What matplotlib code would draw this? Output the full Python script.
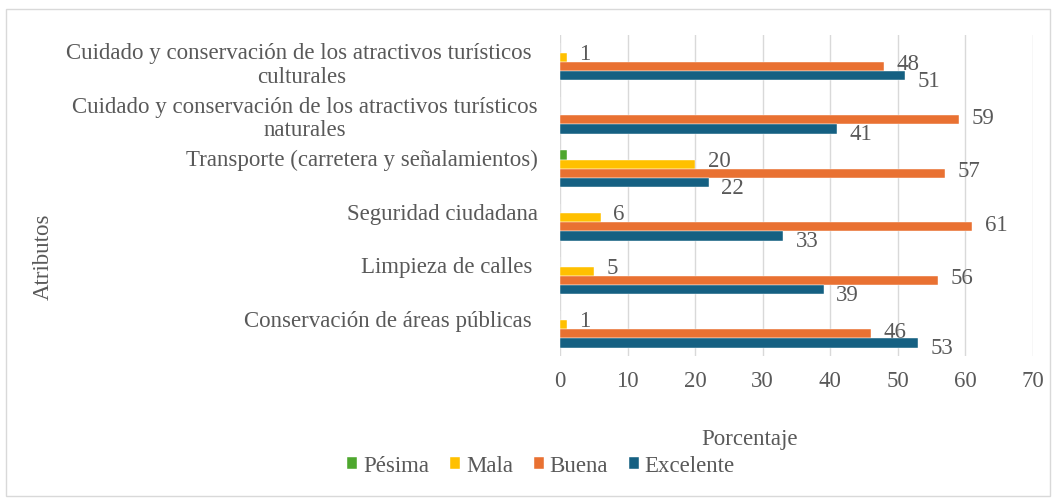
import matplotlib.pyplot as plt
import matplotlib.patches as mpatches
from matplotlib.transforms import offset_copy
import numpy as np

# Datos (porcentajes por atributo, de arriba hacia abajo)
categories = [
    "Cuidado y conservación de los atractivos turísticos \nculturales",
    "Cuidado y conservación de los atractivos turísticos\nnaturales",
    "Transporte (carretera y señalamientos)\n",
    "Seguridad ciudadana\n",
    "Limpieza de calles \n",
    "Conservación de áreas públicas \n",
]
series_names = ["Pésima", "Mala", "Buena", "Excelente"]
pesima = [0, 0, 1, 0, 0, 0]
mala = [1, 0, 20, 6, 5, 1]
buena = [48, 59, 57, 61, 56, 46]
excelente = [51, 41, 22, 33, 39, 53]
x_ticks = [0, 10, 20, 30, 40, 50, 60, 70]

# Estilo
colors = ["#4EA72E", "#FFC000", "#E97132", "#156082"]
label_dy = [0, -2, -1, 4]          # ajuste vertical de etiquetas (pt)
text_color = "#595959"
grid_color = "#D9D9D9"
plt.rcParams['font.family'] = ['Liberation Serif', 'DejaVu Serif']
fs = 16.5

fig = plt.figure(figsize=(10.54, 4.99), dpi=100)
ax = fig.add_axes([560 / 1054, 1 - 356 / 499, 473 / 1054, 321 / 499])

values = [pesima, mala, buena, excelente]
y = np.arange(len(categories))
h = 0.172

for j, (name, vals, col) in enumerate(zip(series_names, values, colors)):
    pos = y + (j - 1.5) * h
    bars = ax.barh(pos, vals, height=h, color=col, label=name,
                   edgecolor="white", linewidth=0.3, zorder=3)
    if name == "Pésima":
        continue                                                       # sin etiquetas en el original
    for b, v in zip(bars, vals):
        if v == 0:
            continue
        tr = offset_copy(ax.transData, fig=fig, x=9, y=-label_dy[j], units='points')
        ax.text(b.get_width(), b.get_y() + b.get_height() / 2, f"{v}",
                transform=tr, ha='left', va='center', fontsize=fs, color=text_color)

ax.set_xlim(0, 70)
ax.set_ylim(len(categories) - 0.5, -0.5)
ax.set_xticks(x_ticks)
ax.set_xticklabels([str(t) for t in x_ticks])
ax.set_yticks(y)
ax.set_yticklabels(categories, multialignment='center', linespacing=1.17)
ax.tick_params(axis='both', length=0, labelsize=fs, labelcolor=text_color)
ax.tick_params(axis='x', pad=11)
ax.tick_params(axis='y', pad=16)
ax.grid(axis='x', color=grid_color, linewidth=1, zorder=0)
for s in ax.spines.values():
    s.set_visible(False)

# Títulos de ejes
fig.text(750 / 1054, 1 - 440 / 499, "Porcentaje", ha='center', va='center',
         fontsize=fs, color=text_color)
fig.text(43 / 1054, 1 - 257 / 499, "Atributos", ha='center', va='center',
         rotation=90, fontsize=fs, color=text_color)

# Leyenda
fig.legend(loc='center', bbox_to_anchor=(541 / 1054, 1 - 466 / 499), ncol=4,
           frameon=False, fontsize=fs, labelcolor=text_color,
           handlelength=0.45, handleheight=0.45, handletextpad=0.25,
           columnspacing=0.9)

# Marco del gráfico
fig.patches.append(mpatches.Rectangle((6 / 1054, 3 / 499), 1044 / 1054, 487 / 499,
                                      transform=fig.transFigure, fill=False,
                                      edgecolor=grid_color, linewidth=1))

fig.savefig("out.png", dpi=100)
